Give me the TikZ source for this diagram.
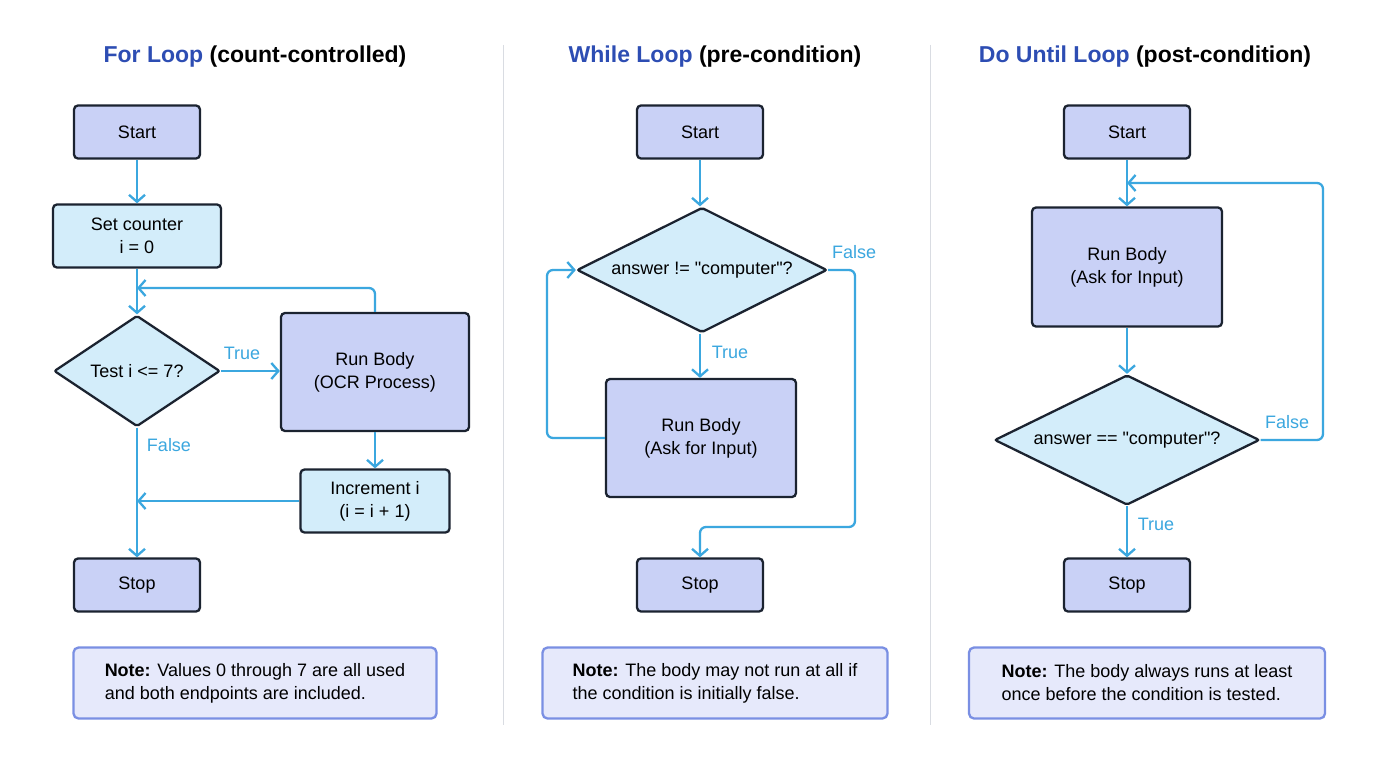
\documentclass[tikz,border=0pt]{standalone}
\usepackage{fontspec}
\setmainfont{Liberation Sans}
\newfontfamily\qf{Liberation Sans}[Ligatures=ResetAll]
\usetikzlibrary{arrows.meta,shapes.geometric}
\definecolor{ln}{HTML}{3BA7DF}
\definecolor{lb}{HTML}{D3EDFA}
\definecolor{lav}{HTML}{C9D1F6}
\definecolor{bd}{HTML}{1B2330}
\definecolor{tb}{HTML}{2D4DB3}
\definecolor{nf}{HTML}{E6E9FB}
\definecolor{nb}{HTML}{7A8FE3}
\definecolor{sep}{HTML}{D9DCE2}
\newcommand{\qq}{{\qf\symbol{"22}}}
\begin{document}
\begin{tikzpicture}[x=1pt,y=-1pt,
 box/.style={draw=bd,line width=2.3pt,rounded corners=4pt,align=center,font=\fontsize{18}{23}\selectfont,inner sep=0pt},
 lbox/.style={box,fill=lb},
 vbox/.style={box,fill=lav},
 dia/.style={draw=bd,line width=2.3pt,fill=lb,diamond,inner sep=0pt,rounded corners=2pt},
 dtx/.style={font=\fontsize{18}{22}\selectfont},
 note/.style={draw=nb,line width=2.3pt,fill=nf,rounded corners=5pt,align=left,font=\fontsize{18}{23}\selectfont,inner sep=0pt},
 ar/.style={draw=ln,line width=2.3pt,-{Straight Barb[length=7pt,width=16pt,line width=2.3pt]},rounded corners=6pt},
 lab/.style={text=ln,font=\fontsize{18}{20}\selectfont},
 ttl/.style={font=\fontsize{23}{27}\selectfont\bfseries}]
\useasboundingbox (0,0) rectangle (1376,768);
\fill[white] (0,0) rectangle (1376,768);
\draw[sep,line width=1pt] (503,45) -- (503,725);
\draw[sep,line width=1pt] (930,45) -- (930,725);
% Panel 1
\node[ttl] (t1) at (255,57) {\textcolor{tb}{For Loop} (count-controlled)};
\node[vbox,minimum width=126pt,minimum height=53pt] (s1) at (137,132) {Start};
\node[lbox,minimum width=168pt,minimum height=63pt] (c1) at (137,236) {Set counter\\i = 0};
\node[dia,minimum width=166pt,minimum height=111pt] (d1) at (137,371) {};
\node[dtx] (d1t) at (d1.center) {Test i <= 7?};
\node[vbox,minimum width=188pt,minimum height=118pt] (r1) at (375,372) {Run Body\\(OCR Process)};
\node[lbox,minimum width=149pt,minimum height=63pt] (i1) at (375,501) {Increment i\\(i = i + 1)};
\node[vbox,minimum width=126pt,minimum height=53pt] (e1) at (137,585) {Stop};
\node[note,minimum width=363pt,minimum height=71pt] (n1) at (255,683) {\textbf{Note:} Values 0 through 7 are all used\\and both endpoints are included.};
\draw[ar] (s1) -- (c1);
\draw[ar] (c1) -- (d1);
\coordinate (j1) at (137,288);
\draw[ar] (r1.north) |- (j1);
\draw[ar] (d1.east) -- (d1.east -| r1.west);
\node[lab] at (242,353) {True};
\draw[ar] (d1) -- (e1);
\node[lab] at (169,445) {False};
\draw[ar] (r1) -- (i1);
\coordinate (j2) at (137,501);
\draw[ar] (i1.west) -- (j2);
% Panel 2
\node[ttl] (t2) at (715,57) {\textcolor{tb}{While Loop} (pre-condition)};
\node[vbox,minimum width=126pt,minimum height=53pt] (s2) at (700,132) {Start};
\node[dia,minimum width=250pt,minimum height=125pt] (d2) at (702,270) {};
\node[dtx] (d2t) at (d2.center) {answer != \qq computer\qq?};
\node[vbox,minimum width=190pt,minimum height=118pt] (r2) at (701,438) {Run Body\\(Ask for Input)};
\node[vbox,minimum width=126pt,minimum height=53pt] (e2) at (700,585) {Stop};
\node[note,minimum width=345pt,minimum height=71pt] (n2) at (715,683) {\textbf{Note:} The body may not run at all if\\the condition is initially false.};
\draw[ar] (s2) -- (s2 |- d2.north);
\draw[ar] (d2.south -| s2) -- (r2.north -| s2);
\node[lab] at (730,352) {True};
\draw[ar] (r2.west) -- (547,438) -- (547,270) -- (d2.west);
\draw[ar] (d2.east) -- (855,270) -- (855,527) -- (700,527) -- (e2.north);
\node[lab] at (854,252) {False};
% Panel 3
\node[ttl] (t3) at (1145,57) {\textcolor{tb}{Do Until Loop} (post-condition)};
\node[vbox,minimum width=126pt,minimum height=53pt] (s3) at (1127,132) {Start};
\node[vbox,minimum width=190pt,minimum height=119pt] (r3) at (1127,267) {Run Body\\(Ask for Input)};
\node[dia,minimum width=265pt,minimum height=130pt] (d3) at (1127,440) {};
\node[dtx] (d3t) at (d3.center) {answer == \qq computer\qq?};
\node[vbox,minimum width=126pt,minimum height=53pt] (e3) at (1127,585) {Stop};
\node[note,minimum width=356pt,minimum height=71pt] (n3) at (1147,683) {\textbf{Note:} The body always runs at least\\once before the condition is tested.};
\draw[ar] (s3) -- (r3);
\coordinate (j3) at (1127,183);
\draw[ar] (d3.east) -- (1323,440) -- (1323,183) -- (j3);
\node[lab] at (1287,422) {False};
\draw[ar] (r3) -- (d3);
\draw[ar] (d3) -- (e3);
\node[lab] at (1156,524) {True};
\end{tikzpicture}
\end{document}
